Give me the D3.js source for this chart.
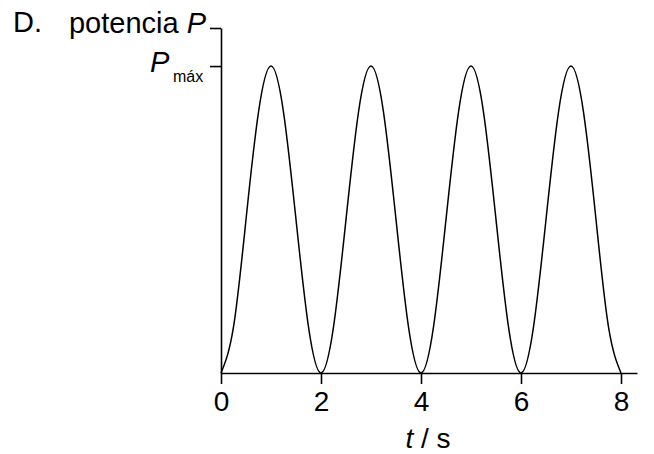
<!DOCTYPE html>
<html>
<head>
<meta charset="utf-8">
<script src="https://cdn.jsdelivr.net/npm/d3@7"></script>
<style>
  body { margin: 0; background: #fff; }
  svg text { font-family: "Liberation Sans", Arial, sans-serif; fill: #000; }
</style>
</head>
<body>
<div id="chart"></div>
<script>
// time in s, power as fraction of P max
const times = [0, 0.25, 0.5, 0.75, 1, 1.25, 1.5, 1.75, 2,
               2.25, 2.5, 2.75, 3, 3.25, 3.5, 3.75, 4,
               4.25, 4.5, 4.75, 5, 5.25, 5.5, 5.75, 6,
               6.25, 6.5, 6.75, 7, 7.25, 7.5, 7.75, 8];
const power = [0, 0.15, 0.5, 0.85, 1, 0.85, 0.5, 0.15, 0,
               0.15, 0.5, 0.85, 1, 0.85, 0.5, 0.15, 0,
               0.15, 0.5, 0.85, 1, 0.85, 0.5, 0.15, 0,
               0.15, 0.5, 0.85, 1, 0.85, 0.5, 0.15, 0];
const xTicks = [0, 2, 4, 6, 8];
const yTicks = [1, 1.124];

const width = 654, height = 454;

var svg = d3.select('#chart').append('svg')
    .attr('width', width)
    .attr('height', height);

// scales
const x = d3.scaleLinear().domain([0, 8.32]).range([221, 637]);
const y = d3.scaleLinear().domain([0, 1.124]).range([373, 28]);

// x axis
var xAxis = svg.append('g')
    .attr('transform', 'translate(0,' + y(0) + ')')
    .call(d3.axisBottom(x).tickValues(xTicks).tickSize(11).tickSizeOuter(0).tickPadding(7));
xAxis.selectAll('text').style('font-size', '28px');

// y axis
var yAxis = svg.append('g')
    .attr('transform', 'translate(' + x(0) + ',0)')
    .call(d3.axisLeft(y).tickValues(yTicks).tickSize(11).tickSizeOuter(0).tickFormat(''));

svg.selectAll('.domain, .tick line')
    .attr('stroke', '#000')
    .attr('stroke-width', 1.6);

// the curve
var data = times.map((t, i) => ({t: t, p: power[i]}));
var line = d3.line()
    .x(d => x(d.t))
    .y(d => y(d.p))
    .curve(d3.curveNatural);

svg.append('path')
    .datum(data)
    .attr('d', line)
    .attr('fill', 'none')
    .attr('stroke', '#000')
    .attr('stroke-width', 1.5);

// labels
svg.append('text')
    .attr('x', 13).attr('y', 32)
    .style('font-size', '29px')
    .text('D.');

var yTitle = svg.append('text')
    .attr('x', 206).attr('y', 33)
    .attr('text-anchor', 'end')
    .style('font-size', '29px');
yTitle.append('tspan').text('potencia ');
yTitle.append('tspan').style('font-style', 'italic').text('P');

svg.append('text')
    .attr('x', 150).attr('y', 72)
    .style('font-size', '29px')
    .style('font-style', 'italic')
    .text('P');
svg.append('text')
    .attr('x', 173).attr('y', 82)
    .style('font-size', '16px')
    .text('máx');

var xTitle = svg.append('text')
    .attr('x', 428).attr('y', 448)
    .attr('text-anchor', 'middle')
    .style('font-size', '28px');
xTitle.append('tspan').style('font-style', 'italic').text('t');
xTitle.append('tspan').text(' / s');
</script>
</body>
</html>
